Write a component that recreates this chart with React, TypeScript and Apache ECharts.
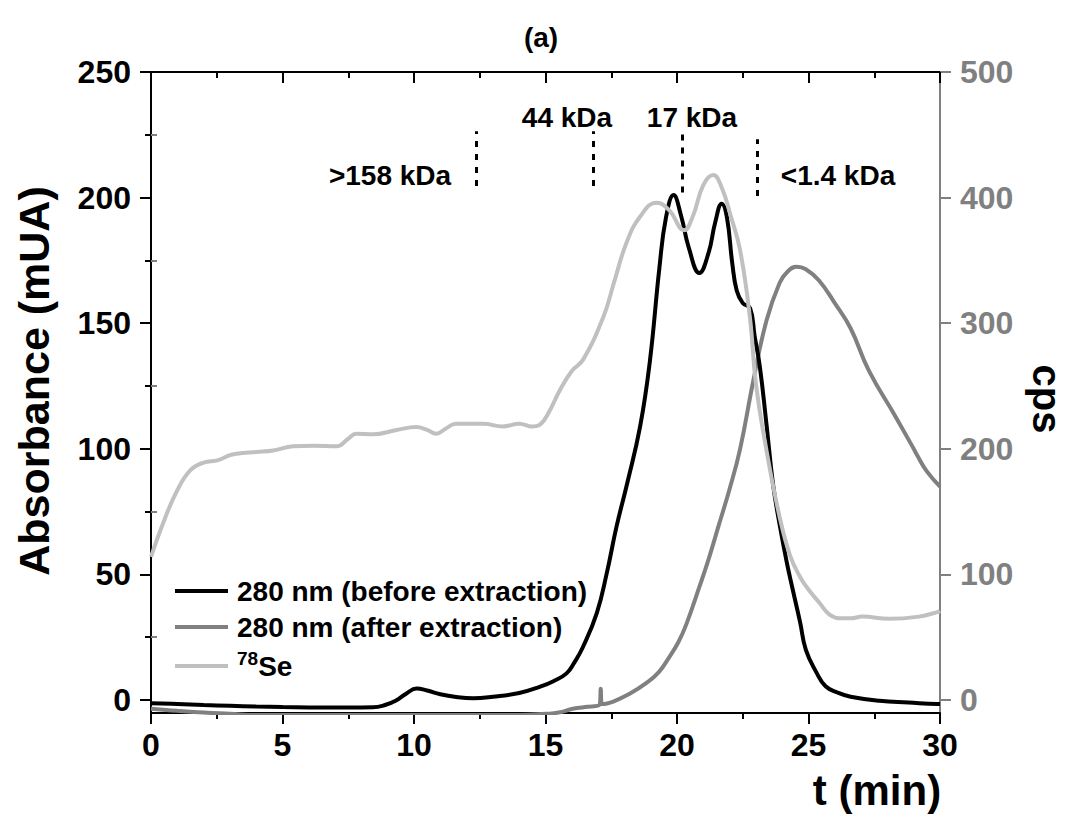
import React, { useEffect, useRef } from "react";
import * as echarts from "echarts";

// ---- data ----
const tBefore = [0, 1, 2, 3, 4, 5, 6.45, 7.5, 8.44, 8.9, 9.3, 9.7, 10.1, 10.5, 11, 11.6, 12.25, 13, 14, 14.8, 15.3, 15.8, 16.1, 16.42, 16.95, 17.33, 17.7, 18.1, 18.6, 18.97, 19.33, 19.58, 19.87, 20.15, 20.45, 20.85, 21.2, 21.45, 21.7, 21.9, 22.1, 22.27, 22.5, 22.78, 22.95, 23.15, 23.4, 23.65, 23.9, 24.17, 24.4, 24.68, 24.9, 25.3, 25.65, 26.1, 26.6, 27.7, 28.8, 29.9, 30];
const vBefore = [-1.3, -1.6, -2.0, -2.3, -2.6, -2.8, -3.0, -3.0, -2.9, -2.0, -0.3, 2.5, 4.6, 3.8, 2.3, 1.2, 0.7, 1.3, 2.8, 5.3, 7.5, 10.6, 15, 21, 34.6, 50.5, 69, 86, 109, 135, 172, 192, 201, 193, 180, 170, 178, 190, 197.6, 192, 174, 163, 158, 156, 145, 132.7, 110, 86, 70, 55, 44, 31, 20, 11, 5.5, 3, 1.3, -0.3, -1.0, -1.6, -1.6];

const tAfter = [0, 1, 2, 3, 4, 8, 14, 15, 15.5, 16, 16.5, 17.06, 17.1, 17.14, 17.6, 18.2, 18.8, 19.3, 19.7, 20.05, 20.35, 20.85, 21.2, 21.6, 22.0, 22.4, 22.9, 23.4, 23.9, 24.2, 24.55, 24.9, 25.4, 26.0, 26.6, 27.3, 28.3, 29.0, 29.1, 29.5, 30];
const vAfter = [-3.5, -4.3, -5.0, -5.5, -6, -6, -6, -5.5, -5, -3.6, -2.8, -1.8, 4.5, -1.6, -0.5, 2.5, 6.5, 11, 17, 23, 30, 45, 56, 70, 84, 100, 127, 151, 166, 170.5, 172.5, 171.5, 167, 158, 148, 131, 113, 100, 98, 91, 85];

const tSe = [0, 0.5, 1.0, 1.5, 2.0, 2.56, 3.0, 3.25, 4.0, 4.65, 5.4, 6.2, 7.05, 7.5, 7.8, 8.44, 9.33, 10.09, 10.5, 10.85, 11.2, 11.6, 12.62, 13.38, 14.0, 14.5, 14.77, 15.1, 15.53, 16.0, 16.43, 17.2, 17.6, 18.08, 18.6, 19.23, 19.7, 20.27, 20.6, 21.0, 21.38, 21.7, 22.05, 22.4, 22.77, 23.0, 23.4, 23.9, 24.3, 24.68, 25.0, 25.43, 25.8, 26.2, 26.6, 27.05, 28.07, 29.2, 29.9, 30];
const vSe = [114, 143, 167, 183, 189, 191, 195, 196, 197.5, 198.7, 202, 202.5, 202, 208, 212, 211.5, 215, 217.3, 215, 212, 216, 220, 220, 217.8, 220, 217.8, 219, 228, 246, 262, 271, 305, 332, 364, 385, 396, 390, 374, 385, 410, 418, 408, 385, 358, 305, 252, 199, 146, 115, 98, 88, 77, 68, 65, 65, 66.4, 64.6, 66.4, 70, 71];

const seriesNames = ["280 nm (before extraction)", "280 nm (after extraction)", "78Se"];
const seriesColors = ["#000000", "#808080", "#c0c0c0"];

const leftTicks = [0, 50, 100, 150, 200, 250];
const leftMinor = [25, 75, 125, 175, 225];
const rightTicks = [0, 100, 200, 300, 400, 500];
const rightMinor = [50, 150, 250, 350, 450];

// size-marker annotations: label, elution time, dotted segment from/to (absorbance units)
const markerLabels = [">158 kDa", "44 kDa", "17 kDa", "<1.4 kDa"];
const markerTimes = [12.35, 16.8, 20.2, 23.05];
const markerFrom = [204.6, 204.6, 202, 200.6];
const markerTo = [226.4, 226.4, 226.4, 223.2];

const FONT = "'Liberation Sans', Arial, Helvetica, sans-serif";

function zip(t: number[], v: number[]) {
  return t.map((x, i) => [x, v[i]]);
}

export default function App() {
  const ref = useRef<HTMLDivElement>(null);
  useEffect(() => {
    if (!ref.current) return;
    const chart = echarts.init(ref.current, undefined, { renderer: "svg" });
    const gridLeft = 151;
    const gridTop = 72;
    const gridW = 789;
    const gridH = 641;

    const yMinL = -5.17;
    const yMinR = -10.34;

    const textEl = (text: string, x: number, y: number, size: number, rotation = 0, color = "#000") => ({
      type: "text",
      x,
      y,
      rotation,
      silent: true,
      style: {
        text,
        fill: color,
        font: `bold ${size}px ${FONT}`,
        fontSize: size,
        fontWeight: "bold",
        fontFamily: FONT,
        align: "center",
        verticalAlign: "middle",
        textAlign: "center",
        textVerticalAlign: "middle",
      },
    });

    const annoPos = [
      [390, 175],
      [567, 117],
      [692, 117],
      [838, 175],
    ];

    const lineCommon = {
      type: "line",
      xAxisIndex: 0,
      showSymbol: false,
      smooth: 0.45,
    };

    const option: any = {
      animation: false,
      backgroundColor: "#ffffff",
      grid: { left: gridLeft, top: gridTop, width: gridW, height: gridH, containLabel: false },
      xAxis: [
        {
          type: "value",
          position: "bottom",
          min: 0,
          max: 30,
          interval: 5,
          axisLine: { show: true, onZero: false, lineStyle: { color: "#000", width: 2 } },
          axisTick: { show: true, length: 11, lineStyle: { color: "#000", width: 2 } },
          minorTick: { show: true, splitNumber: 2, length: 6, lineStyle: { color: "#000", width: 2 } },
          axisLabel: { fontSize: 32, fontWeight: "bold", color: "#000", fontFamily: FONT, margin: 16 },
          splitLine: { show: false },
        },
        {
          type: "value",
          position: "top",
          min: 0,
          max: 30,
          interval: 5,
          axisLine: { show: true, onZero: false, lineStyle: { color: "#000", width: 2 } },
          axisTick: { show: true, inside: true, length: 11, lineStyle: { color: "#000", width: 2 } },
          minorTick: { show: true, splitNumber: 2, length: 6, lineStyle: { color: "#000", width: 2 } },
          axisLabel: { show: false },
          splitLine: { show: false },
        },
      ],
      yAxis: [
        {
          type: "value",
          position: "left",
          min: yMinL,
          max: 250,
          axisLine: { show: true, onZero: false, lineStyle: { color: "#000", width: 2 } },
          axisTick: { show: true, length: 11, customValues: leftTicks, lineStyle: { color: "#000", width: 2 } },
          axisLabel: { customValues: leftTicks, fontSize: 32, fontWeight: "bold", color: "#000", fontFamily: FONT, margin: 20 },
          splitLine: { show: false },
        },
        {
          type: "value",
          position: "right",
          min: yMinR,
          max: 500,
          axisLine: { show: true, onZero: false, lineStyle: { color: "#808080", width: 2 } },
          axisTick: { show: true, length: 11, customValues: rightTicks, lineStyle: { color: "#808080", width: 2 } },
          axisLabel: { customValues: rightTicks, fontSize: 32, fontWeight: "bold", color: "#808080", fontFamily: FONT, margin: 20 },
          splitLine: { show: false },
        },
        {
          type: "value",
          position: "left",
          min: yMinL,
          max: 250,
          axisLine: { show: false },
          axisTick: { show: true, length: 6, customValues: leftMinor, lineStyle: { color: "#000", width: 2 } },
          axisLabel: { show: false },
          splitLine: { show: false },
        },
        {
          type: "value",
          position: "right",
          min: yMinR,
          max: 500,
          axisLine: { show: false },
          axisTick: { show: true, length: 6, customValues: rightMinor, lineStyle: { color: "#808080", width: 2 } },
          axisLabel: { show: false },
          splitLine: { show: false },
        },
      ],
      legend: {
        data: seriesNames,
        orient: "vertical",
        left: 170,
        top: 572,
        itemWidth: 53,
        itemHeight: 4,
        itemGap: 8,
        icon: "rect",
        selectedMode: false,
        formatter: (n: string) => (n === "78Se" ? "{sup|78}{se|Se}" : n),
        textStyle: {
          fontSize: 28,
          fontWeight: "bold",
          color: "#000",
          fontFamily: FONT,
          padding: [0, 0, 0, 4],
          rich: {
            sup: { fontSize: 19, fontWeight: "bold", fontFamily: FONT, color: "#000", verticalAlign: "top", lineHeight: 19 },
            se: { fontSize: 28, fontWeight: "bold", fontFamily: FONT, color: "#000", lineHeight: 34 },
          },
        },
      },
      series: [
        {
          ...lineCommon,
          name: seriesNames[2],
          yAxisIndex: 1,
          data: zip(tSe, vSe),
          color: seriesColors[2],
          lineStyle: { color: seriesColors[2], width: 4 },
          z: 4,
        },
        {
          ...lineCommon,
          name: seriesNames[1],
          yAxisIndex: 0,
          data: zip(tAfter, vAfter),
          color: seriesColors[1],
          lineStyle: { color: seriesColors[1], width: 4 },
          z: 2,
        },
        {
          ...lineCommon,
          name: seriesNames[0],
          yAxisIndex: 0,
          data: zip(tBefore, vBefore),
          color: seriesColors[0],
          lineStyle: { color: seriesColors[0], width: 4 },
          z: 3,
          markLine: {
            silent: true,
            symbol: "none",
            label: { show: false },
            lineStyle: { color: "#000", width: 3, type: [6, 7] },
            data: markerTimes.map((t, i) => [
              { coord: [t, markerFrom[i]] },
              { coord: [t, markerTo[i]] },
            ]),
          },
        },
      ],
      graphic: [
        textEl("(a)", 541, 37, 28),
        textEl("Absorbance (mUA)", 34, 381, 43, Math.PI / 2),
        textEl("cps", 1047, 399, 40, -Math.PI / 2),
        textEl("t (min)", 877, 790, 42),
        ...markerLabels.map((l, i) => textEl(l, annoPos[i][0], annoPos[i][1], 28)),
      ],
    };
    chart.setOption(option);
    return () => chart.dispose();
  }, []);
  return (
    <div
      ref={ref}
      style={{ position: "absolute", left: 0, top: 0, width: 1072, height: 818, background: "#fff" }}
    />
  );
}
